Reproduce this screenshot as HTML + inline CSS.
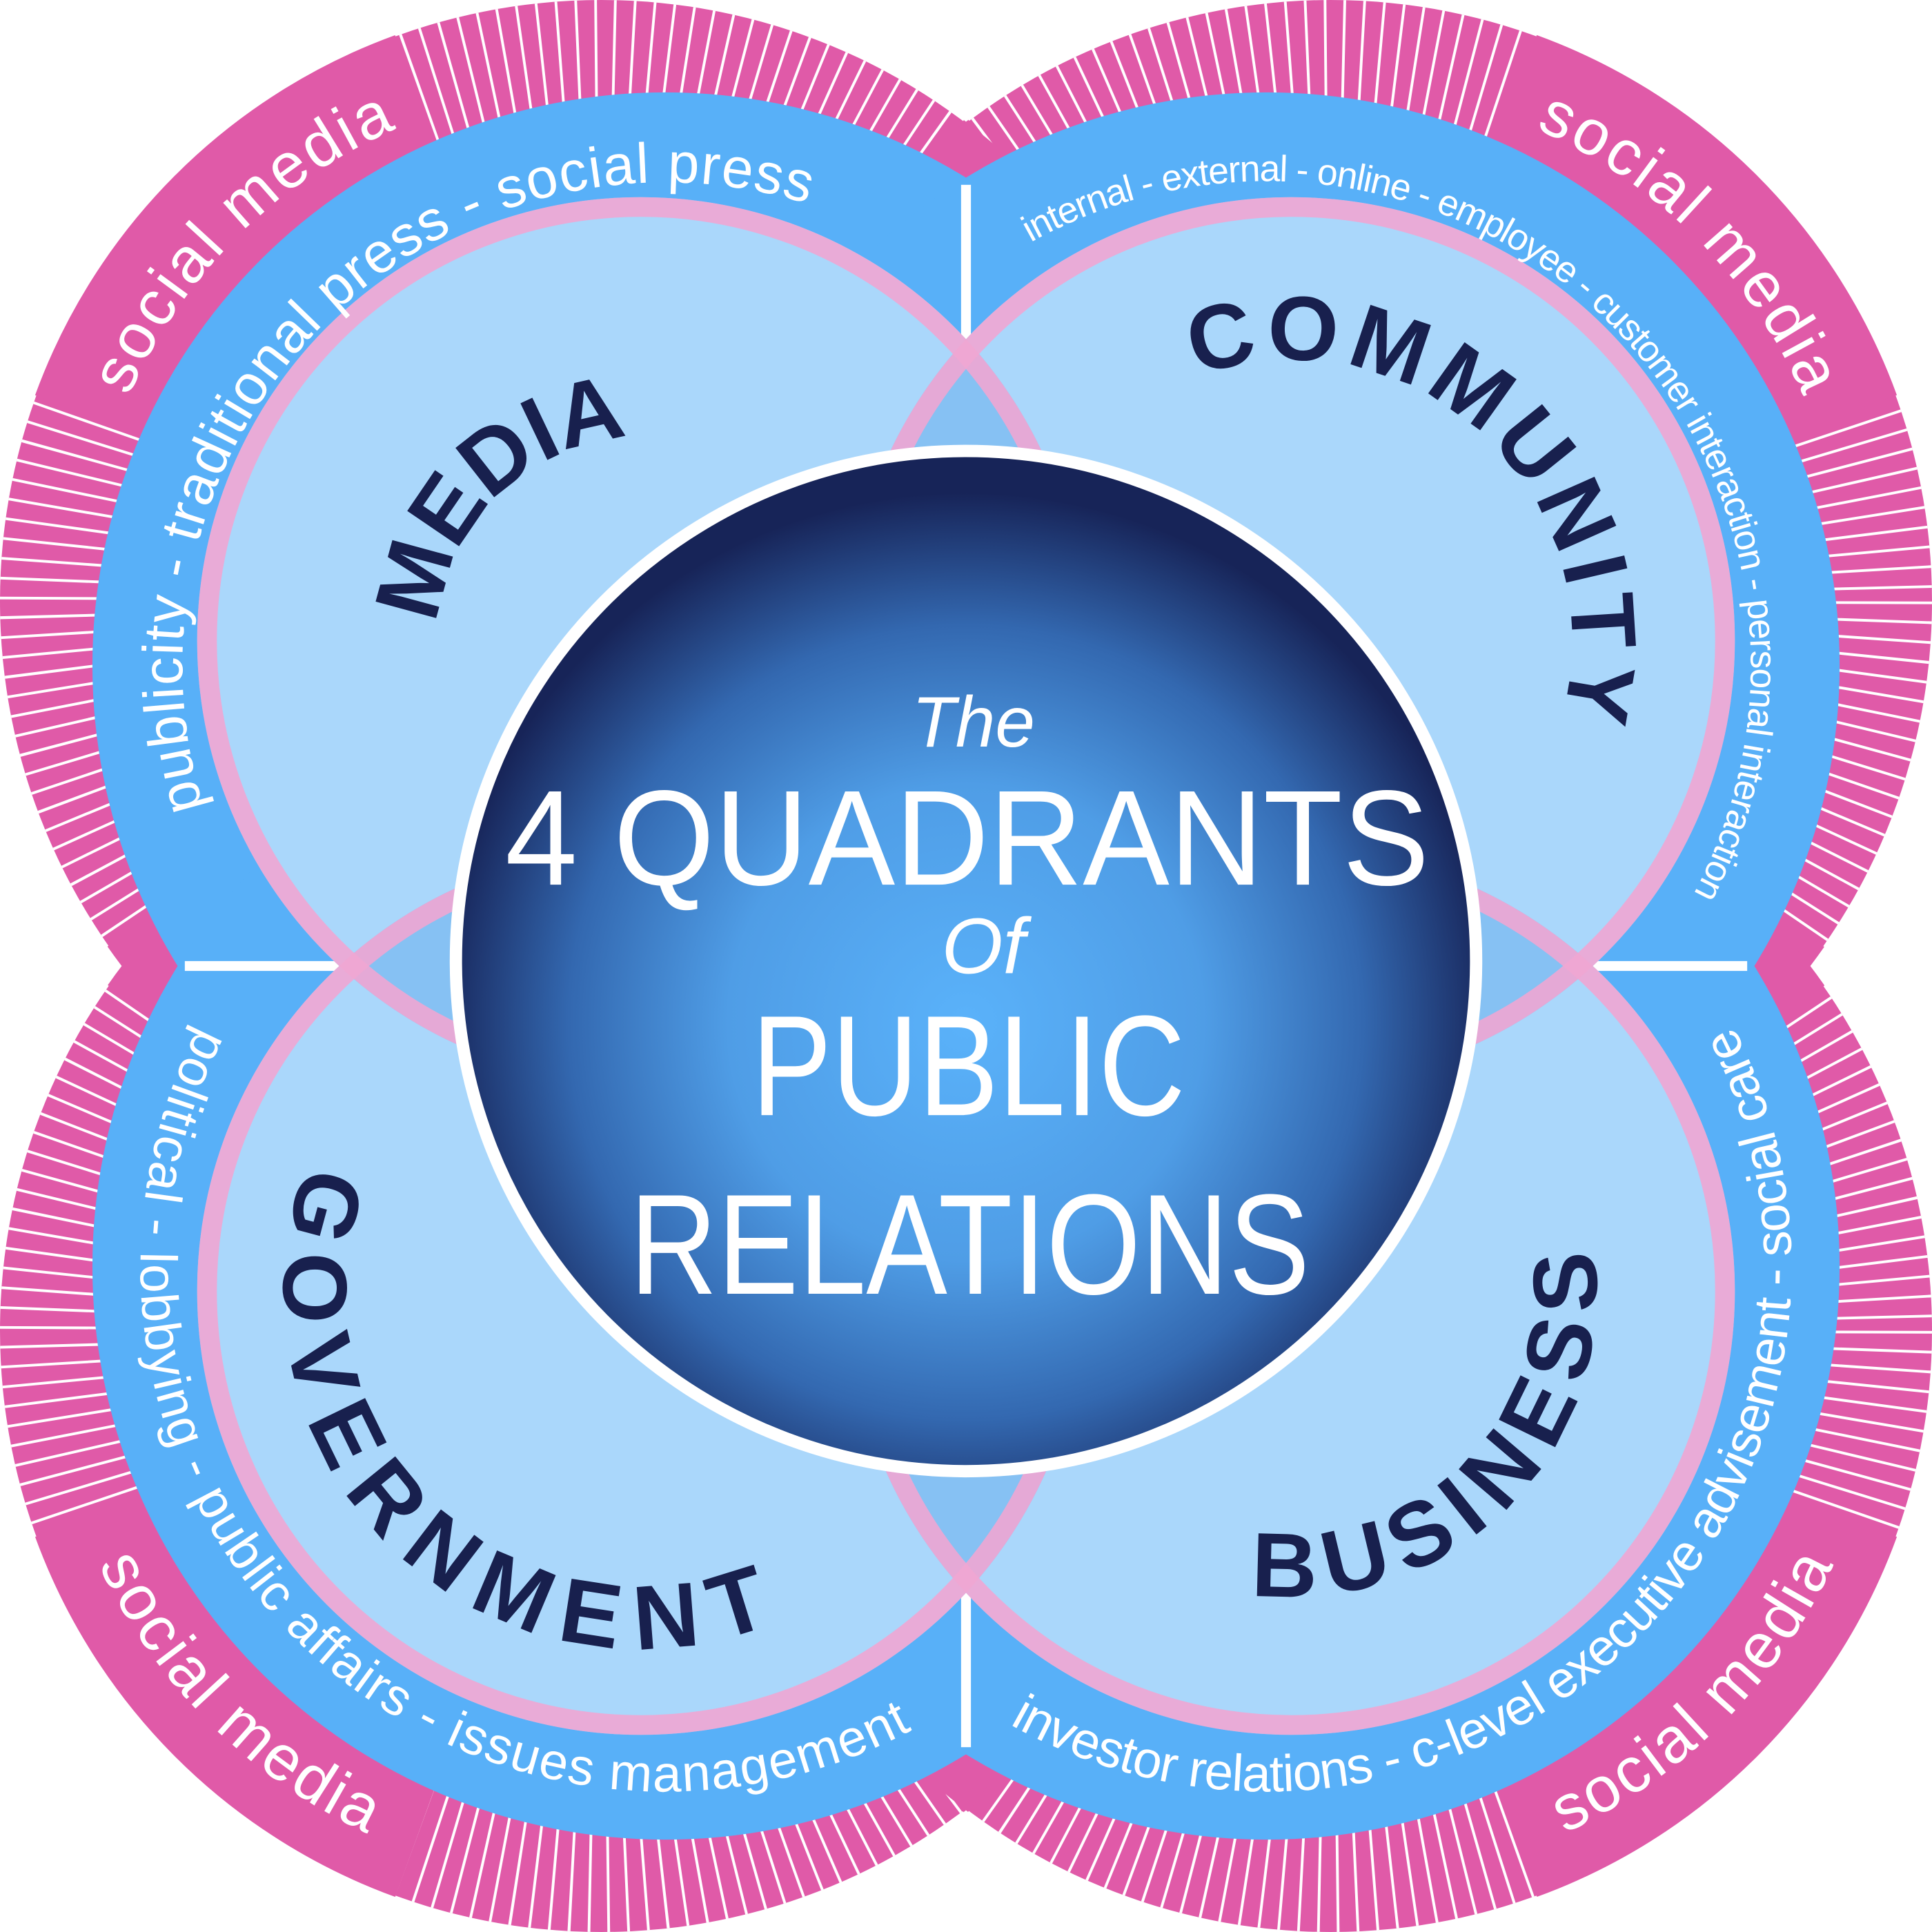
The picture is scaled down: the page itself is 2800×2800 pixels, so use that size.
<!DOCTYPE html>
<html><head><meta charset="utf-8">
<style>
html,body{margin:0;padding:0;background:#fff;width:2800px;height:2800px;overflow:hidden;}
svg{display:block;position:absolute;left:0;top:0;overflow:hidden;}
text{font-family:"Liberation Sans",sans-serif;}
</style></head>
<body>
<svg width="2800" height="2800" viewBox="0 0 1568 1568" xmlns="http://www.w3.org/2000/svg">
<defs>
  <radialGradient id="cg" cx="784" cy="830" r="430" gradientUnits="userSpaceOnUse">
    <stop offset="0" stop-color="#5ab2fa"/>
    <stop offset="0.45" stop-color="#4f9de6"/>
    <stop offset="0.75" stop-color="#3368b0"/>
    <stop offset="1" stop-color="#172458"/>
  </radialGradient>
  <clipPath id="cTL"><circle cx="520" cy="520" r="360"/></clipPath>
  <clipPath id="cTR"><circle cx="1048" cy="520" r="360"/></clipPath>
  <clipPath id="cBL"><circle cx="520" cy="1048" r="360"/></clipPath>
  <path id="pMedia" transform="rotate(45.5 520 520)" d="M685 520 A165 165 0 1 1 355 520 A165 165 0 1 1 685 520"/>
  <path id="pComm" transform="rotate(133 1048 520)" d="M1276 520 A228 228 0 1 1 820 520 A228 228 0 1 1 1276 520"/>
  <path id="pGov" transform="rotate(-45.5 520 1048)" d="M810 1048 A290 290 0 1 0 230 1048 A290 290 0 1 0 810 1048"/>
  <path id="pBus" transform="rotate(-135 1048 1048)" d="M1296 1048 A248 248 0 1 0 800 1048 A248 248 0 1 0 1296 1048"/>
  <path id="bTL" transform="rotate(45 540 540)" d="M932 540 A392 392 0 1 1 148 540 A392 392 0 1 1 932 540"/>
  <path id="bTR" transform="rotate(134.5 1028 540)" d="M1421 540 A393 393 0 1 1 635 540 A393 393 0 1 1 1421 540"/>
  <path id="bBL" transform="rotate(-45.4 540 1028)" d="M966 1028 A426 426 0 1 0 114 1028 A426 426 0 1 0 966 1028"/>
  <path id="bBR" transform="rotate(-134 1028 1028)" d="M1454 1028 A426 426 0 1 0 602 1028 A426 426 0 1 0 1454 1028"/>
  <path id="sTL" transform="rotate(45 488 488)" d="M906 488 A418 418 0 1 1 70 488 A418 418 0 1 1 906 488"/>
  <path id="sTR" transform="rotate(135 1080 488)" d="M1498 488 A418 418 0 1 1 662 488 A418 418 0 1 1 1498 488"/>
  <path id="sBL" transform="rotate(-45 488 1080)" d="M938 1080 A450 450 0 1 0 38 1080 A450 450 0 1 0 938 1080"/>
  <path id="sBR" transform="rotate(-135 1080 1080)" d="M1530 1080 A450 450 0 1 0 630 1080 A450 450 0 1 0 1530 1080"/>
</defs>

<g fill="#e05aa8">
  <circle cx="488" cy="488" r="488"/>
  <circle cx="1080" cy="488" r="488"/>
  <circle cx="488" cy="1080" r="488"/>
  <circle cx="1080" cy="1080" r="488"/>
</g>
<g fill="none" stroke="#fff" stroke-width="130" stroke-dasharray="2.2 11.8">
  <circle cx="488" cy="488" r="423"/>
  <circle cx="1080" cy="488" r="423"/>
  <circle cx="488" cy="1080" r="423"/>
  <circle cx="1080" cy="1080" r="423"/>
</g>
<g fill="none" stroke="#e05aa8" stroke-width="132" stroke-dasharray="1462 1196">
  <circle cx="488" cy="488" r="423" transform="rotate(307 488 488)"/>
  <circle cx="1080" cy="488" r="423" transform="rotate(35 1080 488)"/>
  <circle cx="488" cy="1080" r="423" transform="rotate(215 488 1080)"/>
  <circle cx="1080" cy="1080" r="423" transform="rotate(127 1080 1080)"/>
</g>
<g fill="none" stroke="#e05aa8" stroke-width="132" stroke-dasharray="369 2289">
  <circle cx="488" cy="488" r="423" transform="rotate(200 488 488)"/>
  <circle cx="1080" cy="488" r="423" transform="rotate(290 1080 488)"/>
  <circle cx="488" cy="1080" r="423" transform="rotate(110 488 1080)"/>
  <circle cx="1080" cy="1080" r="423" transform="rotate(20 1080 1080)"/>
</g>

<g fill="#58b0f8">
  <circle cx="540" cy="540" r="465"/>
  <circle cx="1028" cy="540" r="465"/>
  <circle cx="540" cy="1028" r="465"/>
  <circle cx="1028" cy="1028" r="465"/>
</g>
<rect x="150" y="780" width="1268" height="8" fill="#fff"/>
<rect x="780" y="150" width="8" height="1268" fill="#fff"/>

<g fill="#aad7fb">
  <circle cx="520" cy="520" r="360"/>
  <circle cx="1048" cy="520" r="360"/>
  <circle cx="520" cy="1048" r="360"/>
  <circle cx="1048" cy="1048" r="360"/>
</g>
<g fill="#86c1f3">
  <circle cx="1048" cy="520" r="360" clip-path="url(#cTL)"/>
  <circle cx="520" cy="1048" r="360" clip-path="url(#cTL)"/>
  <circle cx="1048" cy="1048" r="360" clip-path="url(#cTR)"/>
  <circle cx="1048" cy="1048" r="360" clip-path="url(#cBL)"/>
</g>
<g fill="none" stroke="#f0a6d3" stroke-width="16" stroke-opacity="0.9">
  <circle cx="520" cy="520" r="352"/>
  <circle cx="1048" cy="520" r="352"/>
  <circle cx="520" cy="1048" r="352"/>
  <circle cx="1048" cy="1048" r="352"/>
</g>

<g fill="#18204e" font-size="74" font-weight="bold">
  <text><textPath href="#pMedia" startOffset="50%" text-anchor="middle" textLength="236" lengthAdjust="spacing">MEDIA</textPath></text>
  <text><textPath href="#pComm" startOffset="50%" text-anchor="middle" textLength="500" lengthAdjust="spacing">COMMUNITY</textPath></text>
  <text><textPath href="#pGov" startOffset="50%" text-anchor="middle" textLength="670" lengthAdjust="spacing">GOVERNMENT</textPath></text>
  <text><textPath href="#pBus" startOffset="50%" text-anchor="middle" textLength="455" lengthAdjust="spacing">BUSINESS</textPath></text>
</g>

<g fill="#fff">
  <text font-size="46"><textPath href="#bTL" startOffset="50%" text-anchor="middle" textLength="850" lengthAdjust="spacing">publicity  -  traditional press  -  social press</textPath></text>
  <text font-size="30"><textPath href="#bTR" startOffset="50%" text-anchor="middle" textLength="1010" lengthAdjust="spacing">internal - external - online - employee - customer interaction - personal interaction</textPath></text>
  <text font-size="42"><textPath href="#bBL" startOffset="50%" text-anchor="middle" textLength="1080" lengthAdjust="spacing">political - lobbying - public affairs - issues management</textPath></text>
  <text font-size="42"><textPath href="#bBR" startOffset="50%" text-anchor="middle" textLength="1090" lengthAdjust="spacing">investor relations - c-level executive advisement - social care</textPath></text>
</g>

<g fill="#fff" font-size="52">
  <text><textPath href="#sTL" startOffset="50%" text-anchor="middle" textLength="315" lengthAdjust="spacing">social media</textPath></text>
  <text><textPath href="#sTR" startOffset="50%" text-anchor="middle" textLength="315" lengthAdjust="spacing">social media</textPath></text>
  <text><textPath href="#sBL" startOffset="50%" text-anchor="middle" textLength="315" lengthAdjust="spacing">social media</textPath></text>
  <text><textPath href="#sBR" startOffset="50%" text-anchor="middle" textLength="315" lengthAdjust="spacing">social media</textPath></text>
</g>

<circle cx="784" cy="780" r="414" fill="url(#cg)" stroke="#fff" stroke-width="10"/>
<g fill="#fff" text-anchor="middle">
  <text x="790" y="606" font-family="Liberation Serif,serif" font-style="italic" font-size="58">The</text>
  <text x="785" y="718" font-size="110" textLength="750" lengthAdjust="spacingAndGlyphs">4 QUADRANTS</text>
  <text x="798" y="790" font-family="Liberation Serif,serif" font-style="italic" font-size="64">Of</text>
  <text x="786" y="905" font-size="116" textLength="352" lengthAdjust="spacingAndGlyphs">PUBLIC</text>
  <text x="787" y="1050" font-size="116" textLength="552" lengthAdjust="spacingAndGlyphs">RELATIONS</text>
</g>
</svg>
</body></html>
